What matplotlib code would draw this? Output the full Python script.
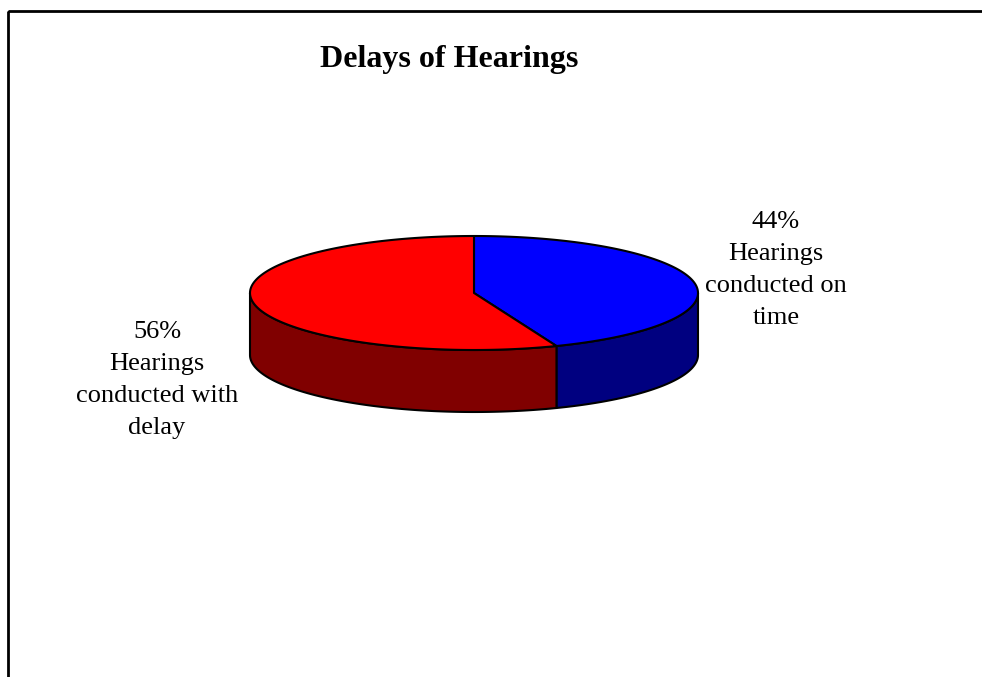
import numpy as np
import matplotlib
matplotlib.use("Agg")
import matplotlib.pyplot as plt
from matplotlib.patches import Polygon, Rectangle

# chart data
labels = ["Hearings\nconducted on\ntime", "Hearings\nconducted with\ndelay"]
shares = [44, 56]
top_colors = ["#0000FF", "#FF0000"]
side_colors = ["#000080", "#800000"]

plt.rcParams['font.family'] = ['Liberation Serif', 'DejaVu Serif']

fig = plt.figure(figsize=(9.82, 6.77), dpi=100)
ax = fig.add_axes([0, 0, 1, 1])
ax.set_xlim(0, 982)
ax.set_ylim(677, 0)
ax.axis('off')

# pie geometry (pixel-like axes units, y down)
cx, cy = 474, 293
a, b = 224, 57
depth = 62


def rim(phi, dy=0.0):
    # phi is measured clockwise from 12 o'clock
    return np.column_stack([cx + a * np.sin(phi), cy - b * np.cos(phi) + dy])


fracs = np.array(shares, dtype=float) / sum(shares)
bounds = np.concatenate([[0], np.cumsum(fracs)]) * 2 * np.pi

# sides first (only the front half is visible)
for i in range(len(shares)):
    s = max(bounds[i], np.pi / 2)
    e = min(bounds[i + 1], 3 * np.pi / 2)
    if e <= s:
        continue
    phi = np.linspace(s, e, 200)
    pts = np.vstack([rim(phi), rim(phi[::-1], depth)])
    ax.add_patch(Polygon(pts, closed=True, facecolor=side_colors[i],
                         edgecolor='black', linewidth=1.5, joinstyle='round'))

# top faces
for i in range(len(shares)):
    phi = np.linspace(bounds[i], bounds[i + 1], 300)
    pts = np.vstack([[cx, cy], rim(phi)])
    ax.add_patch(Polygon(pts, closed=True, facecolor=top_colors[i],
                         edgecolor='black', linewidth=1.5, joinstyle='round'))

# data labels
ax.text(776, 270, f"{shares[0]}%\n{labels[0]}", ha='center', va='center',
        fontsize=19, linespacing=1.58)
ax.text(157, 380, f"{shares[1]}%\n{labels[1]}", ha='center', va='center',
        fontsize=19, linespacing=1.58)

ax.text(449, 67, "Delays of Hearings", ha='center', va='baseline',
        fontsize=23, fontweight='bold')

# chart area border (runs off the right and bottom edges)
ax.add_patch(Rectangle((8, 11), 1000, 700, fill=False, edgecolor='black',
                       linewidth=2, clip_on=False))

fig.savefig("out.png", dpi=100)
